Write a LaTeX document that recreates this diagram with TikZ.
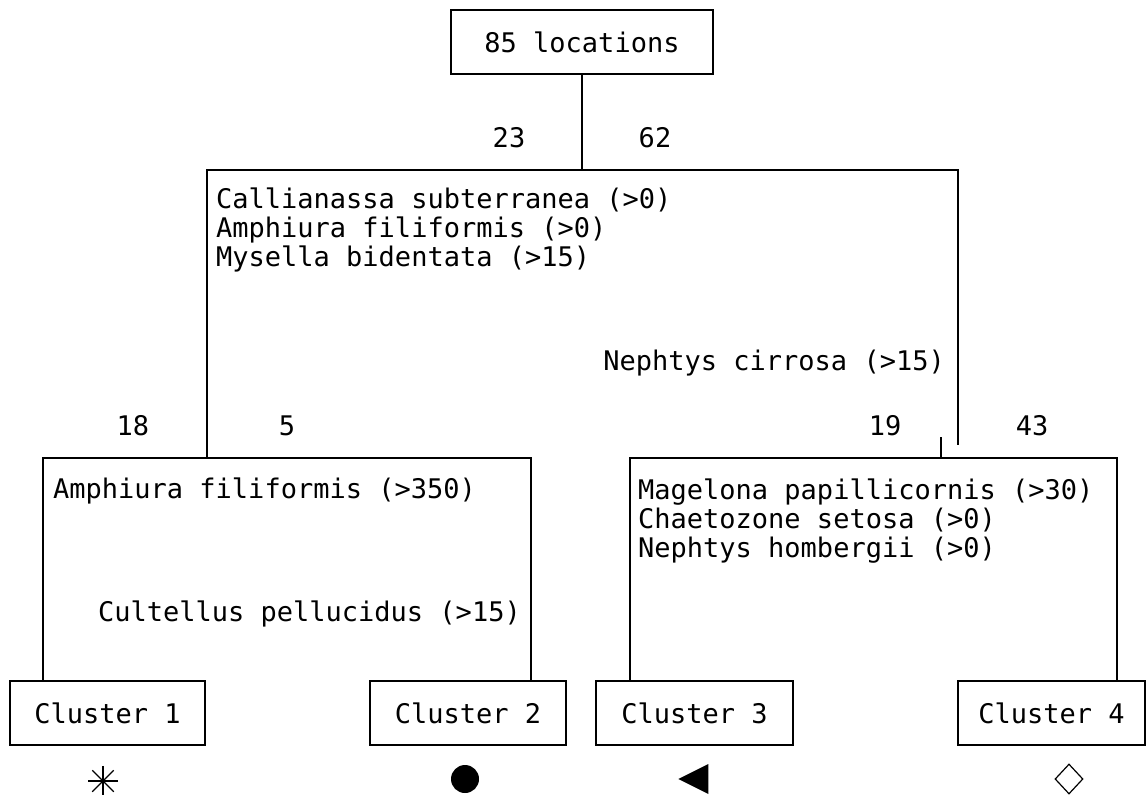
\documentclass[tikz,border=0pt]{standalone}
\usepackage{fontspec}
\setmonofont{DejaVu Sans Mono}
\usepackage{tikz}
\usetikzlibrary{positioning,shapes.geometric}
\newcommand{\spfont}{\ttfamily\fontsize{13.5}{14.5}\selectfont}

\begin{document}
\begin{tikzpicture}[x=0.5pt,y=-0.5pt,line width=1.2pt,line cap=rect]
\tikzstyle{box}=[draw,line width=1.2pt,minimum height=32pt,font=\spfont,inner sep=0pt]
\tikzstyle{split}=[font=\spfont,align=left,inner sep=0pt]
\tikzstyle{count}=[font=\spfont,inner sep=0pt]
\useasboundingbox (0,0) rectangle (1147,794);

\node[box,minimum width=131pt] (root) at (582,42) {85 locations};

\node[box,minimum width=97.5pt] (c1) at (107.5,713) {Cluster 1};
\node[box,minimum width=98pt] (c2) at (468,713) {Cluster 2};
\node[box,minimum width=98.5pt] (c3) at (694.5,713) {Cluster 3};
\node[box,minimum width=93.5pt] (c4) at (1051.5,713) {Cluster 4};

% split points
\coordinate (sA) at (207,170);
\coordinate (sB) at (958,170);
\coordinate (sBend) at (958,444);
\coordinate (lA) at (43,458);
\coordinate (lB) at (531,458);
\coordinate (rA) at (630,458);
\coordinate (rB) at (1117,458);
\coordinate (rT) at (941,438);

\draw (root.south)--(root.south |- sA);
\draw (sA)--(sB);
\draw (sA)--(sA |- lA);
\draw (sB)--(sBend);
\draw (lA)--(lB);
\draw (lA)--(lA |- c1.north);
\draw (lB)--(lB |- c2.north);
\draw (rT)--(rT |- rA);
\draw (rA)--(rB);
\draw (rA)--(rA |- c3.north);
\draw (rB)--(rB |- c4.north);

\node[count] (n23) at (509,138) {23};
\node[count] (n62) at (655,138) {62};
\node[count] (n18) at (133,426) {18};
\node[count] (n5) at (287,426) {5};
\node[count] (n19) at (885,426) {19};
\node[count] (n43) at (1032,426) {43};

\node[split,anchor=north west] (spA) at (215,187) {Callianassa subterranea (>0)\\Amphiura filiformis (>0)\\Mysella bidentata (>15)};
\node[split,anchor=east] (spB) at (946,363) {Nephtys cirrosa (>15)};
\node[split,anchor=west] (spC) at (52,491) {Amphiura filiformis (>350)};
\node[split,anchor=east] (spD) at (522,614) {Cultellus pellucidus (>15)};
\node[split,anchor=north west] (spE) at (637,478) {Magelona papillicornis (>30)\\Chaetozone setosa (>0)\\Nephtys hombergii (>0)};

% cluster symbols
\node[circle,inner sep=0pt,minimum size=14pt] (m1) at (103,781) {};
\foreach \a/\b in {0/180,45/225,90/270,135/315}
  \draw[line width=.6pt,line cap=butt] (m1.\a)--(m1.\b);
\node[circle,fill,inner sep=0pt,minimum size=14pt] (m2) at (465,779) {};
\node[isosceles triangle,fill,shape border rotate=180,isosceles triangle stretches,minimum width=15pt,minimum height=15pt,inner sep=0pt] (m3) at (699,779) {};
\node[diamond,draw,line width=.6pt,minimum width=14pt,minimum height=15pt,inner sep=0pt] (m4) at (1069,779) {};
\end{tikzpicture}
\end{document}
